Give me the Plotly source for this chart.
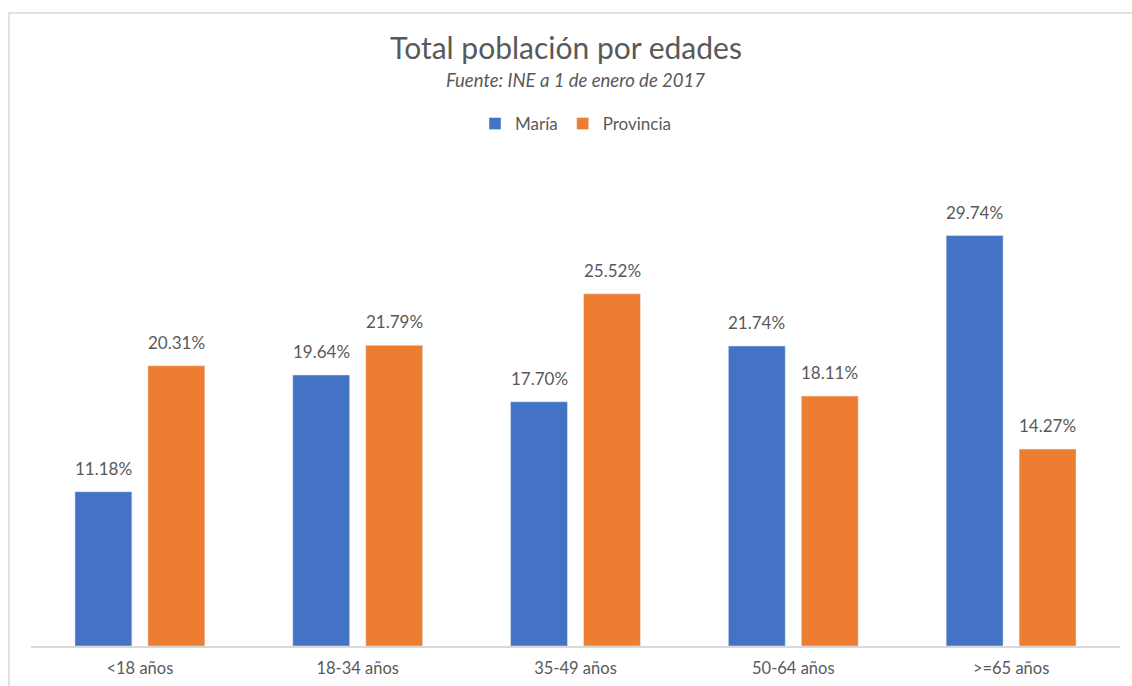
import plotly.graph_objects as go

categories = ["<18 años", "18-34 años", "35-49 años", "50-64 años", ">=65 años"]
maria = [11.18, 19.64, 17.70, 21.74, 29.74]
provincia = [20.31, 21.79, 25.52, 18.11, 14.27]

FONT = "Lato"
GREY = "#595959"

fig = go.Figure()
fig.add_trace(go.Bar(name="María", x=categories, y=maria, marker_color="#4472C4"))
fig.add_trace(go.Bar(name="Provincia", x=categories, y=provincia, marker_color="#ED7D31"))

# data labels, offset to sit over each bar of the group
for vals, shift in ((maria, -36.5), (provincia, 36.5)):
    for c, v in zip(categories, vals):
        fig.add_annotation(x=c, y=v, xref="x", yref="y", text=f"{v:.2f}%", showarrow=False,
                           xshift=shift, yshift=11, yanchor="bottom", xanchor="center",
                           font=dict(size=17, color=GREY, family=FONT))

fig.update_layout(
    width=1132, height=686,
    margin=dict(l=31, r=12, t=163, b=40),
    paper_bgcolor="white", plot_bgcolor="white",
    barmode="group", bargap=0.33, bargroupgap=0.22,
    font=dict(family=FONT, color=GREY, size=16),
    title=dict(text="Total población por edades", x=0.5, xanchor="center",
               y=1 - 48 / 686, yanchor="middle",
               font=dict(size=30, color=GREY, family=FONT)),
    legend=dict(orientation="h", x=0.5, xanchor="center", y=(646 - 124) / 483, yanchor="middle",
                font=dict(size=17, color=GREY, family=FONT), itemwidth=30, traceorder="normal"),
    xaxis=dict(showline=True, linecolor="#d9d9d9", linewidth=1.5, ticks="", showgrid=False,
               ticklabelstandoff=6, automargin=False,
               tickfont=dict(size=16.5, color=GREY, family=FONT)),
    yaxis=dict(range=[0, 35], visible=False, showgrid=False, zeroline=False),
)

fig.add_annotation(text="<i>Fuente: INE a 1 de enero de 2017</i>", xref="paper", yref="paper",
                   x=0.5, y=(646 - 80) / 483, xanchor="center", yanchor="middle", showarrow=False,
                   font=dict(size=18.5, color=GREY, family=FONT))

fig.add_shape(type="rect", xref="paper", yref="paper",
              x0=(9 - 31) / 1089, x1=1.03, y0=-0.2, y1=(646 - 13) / 483,
              line=dict(color="#d9d9d9", width=1.5), fillcolor="rgba(0,0,0,0)", layer="above")

fig.write_html("out.html")
